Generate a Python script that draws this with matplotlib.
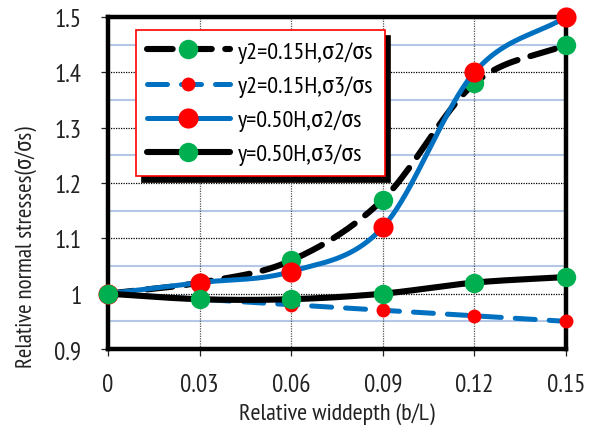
import numpy as np
import matplotlib
matplotlib.use("Agg")
import matplotlib.pyplot as plt

plt.rcParams['font.family'] = ['PT Sans Narrow', 'Roboto Condensed', 'DejaVu Sans']

# Relative width-depth ratio (b/L)
x = [0, 0.03, 0.06, 0.09, 0.12, 0.15]
x_ticklabels = ["0", "0.03", "0.06", "0.09", "0.12", "0.15"]

# Relative normal stresses
s2_015 = [1.00, 1.02, 1.06, 1.17, 1.38, 1.45]   # y2=0.15H, sigma2/sigma_s
s3_015 = [1.00, 0.99, 0.98, 0.97, 0.96, 0.95]   # y2=0.15H, sigma3/sigma_s
s2_050 = [1.00, 1.02, 1.04, 1.12, 1.40, 1.50]   # y=0.50H, sigma2/sigma_s
s3_050 = [1.00, 0.99, 0.99, 1.00, 1.02, 1.03]   # y=0.50H, sigma3/sigma_s

labels = ["y2=0.15H,σ2/σs", "y2=0.15H,σ3/σs", "y=0.50H,σ2/σs", "y=0.50H,σ3/σs"]

XLIM = (0, 0.15)
YLIM = (0.9, 1.5)


def smooth(xs, ys, n=40):
    """Catmull-Rom curve through the points, computed in axis-normalised space."""
    xs = np.asarray(xs, float)
    ys = np.asarray(ys, float)
    sx = XLIM[1] - XLIM[0]
    sy = YLIM[1] - YLIM[0]
    P = np.column_stack([(xs - XLIM[0]) / sx, (ys - YLIM[0]) / sy * 0.725])
    P = np.vstack([P[0] - (P[1] - P[0]), P, P[-1] + (P[-1] - P[-2])])
    out = []
    t = np.linspace(0, 1, n)[:, None]
    for i in range(1, len(P) - 2):
        p0, p1, p2, p3 = P[i - 1], P[i], P[i + 1], P[i + 2]
        m1 = (p2 - p0) / 2
        m2 = (p3 - p1) / 2
        h00 = 2 * t**3 - 3 * t**2 + 1
        h10 = t**3 - 2 * t**2 + t
        h01 = -2 * t**3 + 3 * t**2
        h11 = t**3 - t**2
        seg = h00 * p1 + h10 * m1 + h01 * p2 + h11 * m2
        out.append(seg if i == 1 else seg[1:])
    C = np.vstack(out)
    return C[:, 0] * sx + XLIM[0], C[:, 1] / 0.725 * sy + YLIM[0]


fig = plt.figure(figsize=(5.98, 4.39), dpi=100)
ax = fig.add_axes([108 / 598, 89 / 439, 458 / 598, 332 / 439])

BLACK = "#000000"
BLUE = "#0070c0"
GREEN = "#00b050"
RED = "#ff0000"

styles = [
    dict(color=BLACK, lw=4.4, ls=(0, (4.2, 2.2)), mfc=GREEN, ms=14),
    dict(color=BLUE, lw=3.6, ls=(0, (4.0, 2.8)), mfc=RED, ms=10),
    dict(color=BLUE, lw=3.6, ls="-", mfc=RED, ms=14.5),
    dict(color=BLACK, lw=4.4, ls="-", mfc=GREEN, ms=14),
]
series = [s2_015, s3_015, s2_050, s3_050]

handles = []
for k, (ys, st) in enumerate(zip(series, styles)):
    cx, cy = smooth(x, ys)
    ax.plot(cx, cy, color=st["color"], lw=st["lw"], ls=st["ls"],
            dash_capstyle="round", solid_capstyle="round", zorder=3 + k)
    ax.plot(x, ys, ls="none", marker="o", ms=st["ms"], mfc=st["mfc"],
            mec="none", zorder=3 + k, clip_on=False)
    h, = ax.plot([], [], color=st["color"], lw=st["lw"], ls=st["ls"],
                 dash_capstyle="round", solid_capstyle="round",
                 marker="o", ms=st["ms"], mfc=st["mfc"], mec="none")
    handles.append(h)

ax.set_xlim(*XLIM)
ax.set_ylim(*YLIM)
ax.set_xticks(x)
ax.set_xticklabels(x_ticklabels)
ax.set_yticks([0.9, 1.0, 1.1, 1.2, 1.3, 1.4, 1.5])
ax.set_yticklabels(["0.9", "1", "1.1", "1.2", "1.3", "1.4", "1.5"])

# light blue half-step lines, dotted main lines
for yv in np.arange(0.95, 1.5, 0.1):
    ax.axhline(yv, color="#b4c7e7", lw=1.5, zorder=1)
for yv in np.arange(1.0, 1.45, 0.1):
    ax.axhline(yv, color="#000000", lw=0.9, ls=(0, (1, 1)), zorder=1)
for xv in x[1:-1]:
    ax.axvline(xv, color="#555555", lw=0.9, ls=(0, (1, 1)), zorder=1)

ax.tick_params(axis="both", which="major", direction="out", length=5,
               width=0.9, labelsize=18, colors="#222222", pad=12)
ax.tick_params(axis="y", pad=14)
for s in ax.spines.values():
    s.set_linewidth(3.2)
    s.set_color("black")
    s.set_zorder(2)

ax.set_xlabel("Relative widdepth (b/L)", fontsize=17.5, color="#222222", labelpad=5)
ax.set_ylabel("Relative normal stresses(σ/σs)", fontsize=16.5, color="#222222")
ax.yaxis.set_label_coords(-0.155, 0.31)

leg = ax.legend(handles, labels, loc="upper left",
                bbox_to_anchor=(28 / 458, 1 - 13 / 332),
                fontsize=17.5, handlelength=3.4, handletextpad=0.35,
                labelspacing=0.5, borderpad=0.45, borderaxespad=0,
                fancybox=False, frameon=True, framealpha=1, edgecolor=RED,
                shadow={"ox": 4, "oy": -4, "color": "black", "alpha": 1})
leg.get_frame().set_linewidth(1.2)
leg.set_zorder(20)

fig.savefig("out.png", dpi=100)
